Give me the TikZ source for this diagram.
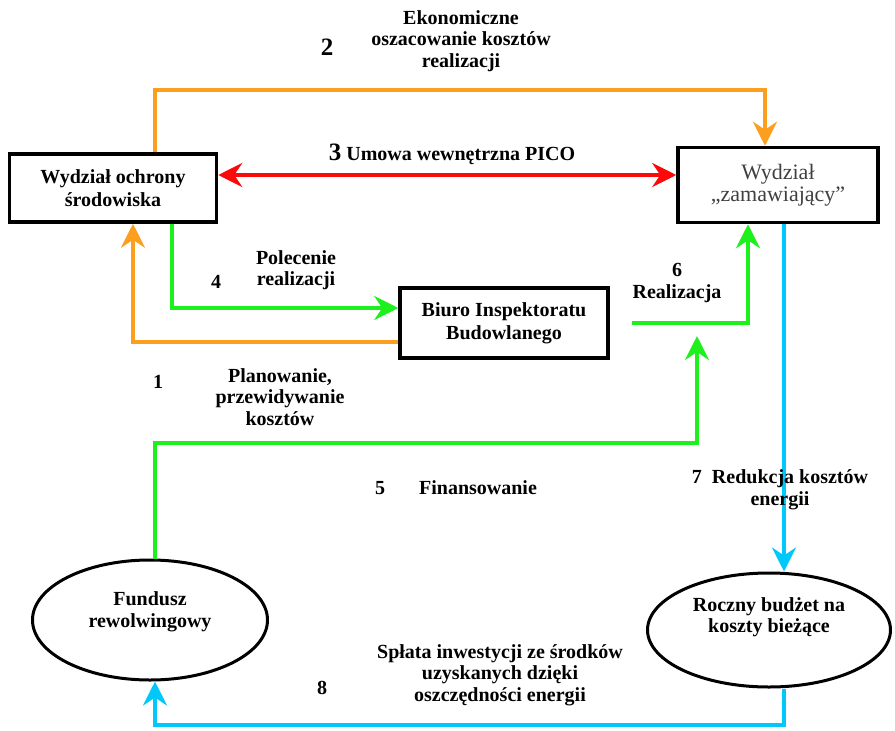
\documentclass[tikz,border=0pt]{standalone}
\usepackage{fontspec}
\setmainfont{Liberation Serif}
\usetikzlibrary{arrows.meta,shapes.geometric}
\definecolor{pomar}{RGB}{252,158,30}
\definecolor{ziel}{RGB}{30,240,30}
\definecolor{czer}{RGB}{250,10,10}
\definecolor{nieb}{RGB}{0,200,250}
\tikzset{
  prost/.style={draw, line width=3.5pt, align=center, inner sep=0pt,
    font=\fontsize{20}{23}\selectfont\bfseries},
  owal/.style={draw, ellipse, line width=3pt, inner sep=0pt},
  lbl/.style={align=center, inner sep=0pt, font=\fontsize{20}{21.5}\selectfont\bfseries},
  num/.style={inner sep=0pt, font=\fontsize{20}{21.5}\selectfont\bfseries},
  duzy/.style={inner sep=0pt, font=\fontsize{25}{25}\selectfont\bfseries},
  grot/.tip={Stealth[length=24pt,width=24pt,inset=8pt]},
  lin/.style={line width=4.5pt, -grot},
}
\begin{document}
\begin{tikzpicture}[x=1pt,y=-1pt]
\useasboundingbox (0,0) rectangle (895,731);
% pola
\node[prost, minimum width=207, minimum height=68] (wos) at (113,188) {Wydział ochrony\\środowiska};
\node[prost, minimum width=200, minimum height=75, text=black!75,
  font=\fontsize{22}{22}\selectfont] (wz) at (778,185) {Wydział\\„zamawiający”};
\node[prost, minimum width=208, minimum height=70] (biuro) at (504,323) {Biuro Inspektoratu\\Budowlanego};
\node[owal, minimum width=235, minimum height=120] (fund) at (150,620) {};
\node[lbl] (fundt) at ([yshift=8pt]fund.center) {Fundusz\\rewolwingowy};
\node[owal, minimum width=243, minimum height=114] (roczny) at (769,630) {};
\node[lbl] (rocznyt) at ([yshift=13pt]roczny.center) {Roczny budżet na\\koszty bieżące};
\coordinate (fin) at (697,336);

% strzalki
\draw[lin, pomar] (155,0 |- wos.north) |- (765,90) -- (765,0 |- wz.north);
\draw[lin, czer, grot-grot] (wos.east |- 0,175) -- (wz.west |- 0,175);
\draw[lin, ziel] (172,0 |- wos.south) |- (biuro.west |- 0,308);
\draw[lin, pomar] (biuro.west |- 0,342) -| (133,0 |- wos.south);
\draw[lin, ziel] ([xshift=22pt]biuro.east) -| (748,0 |- wz.south);
\draw[lin, ziel] (155,0 |- fund.north) |- (697,443) -- (fin);
\draw[lin, nieb] (784,0 |- wz.south) -- (784,0 |- roczny.north);
\draw[lin, nieb] (784,0 |- roczny.south) |- (155,725) -- (155,0 |- fund.south);

% opisy
\node[duzy] (n2) at (327,47) {2};
\node[lbl] (t2) at (461,41) {Ekonomiczne\\oszacowanie kosztów\\realizacji};
\node[lbl] (t3) at (452,154) {{\fontsize{25}{25}\selectfont 3} Umowa wewnętrzna PICO};
\node[num] (n4) at (216,282) {4};
\node[lbl] (t4) at (296,270) {Polecenie\\realizacji};
\node[num] (n1) at (158,382) {1};
\node[lbl] (t1) at (280,397) {Planowanie,\\przewidywanie\\kosztów};
\node[lbl] (t6) at (677,283) {6\\Realizacja};
\node[num] (n5) at (380,488) {5};
\node[lbl] (t5) at (478,488) {Finansowanie};
\node[lbl] (t7) at (780,490) {7\ \ Redukcja kosztów\\energii};
\node[num] (n8) at (322,688) {8};
\node[lbl] (t8) at (500,675) {Spłata inwestycji ze środków\\uzyskanych dzięki\\oszczędności energii};
\end{tikzpicture}
\end{document}
